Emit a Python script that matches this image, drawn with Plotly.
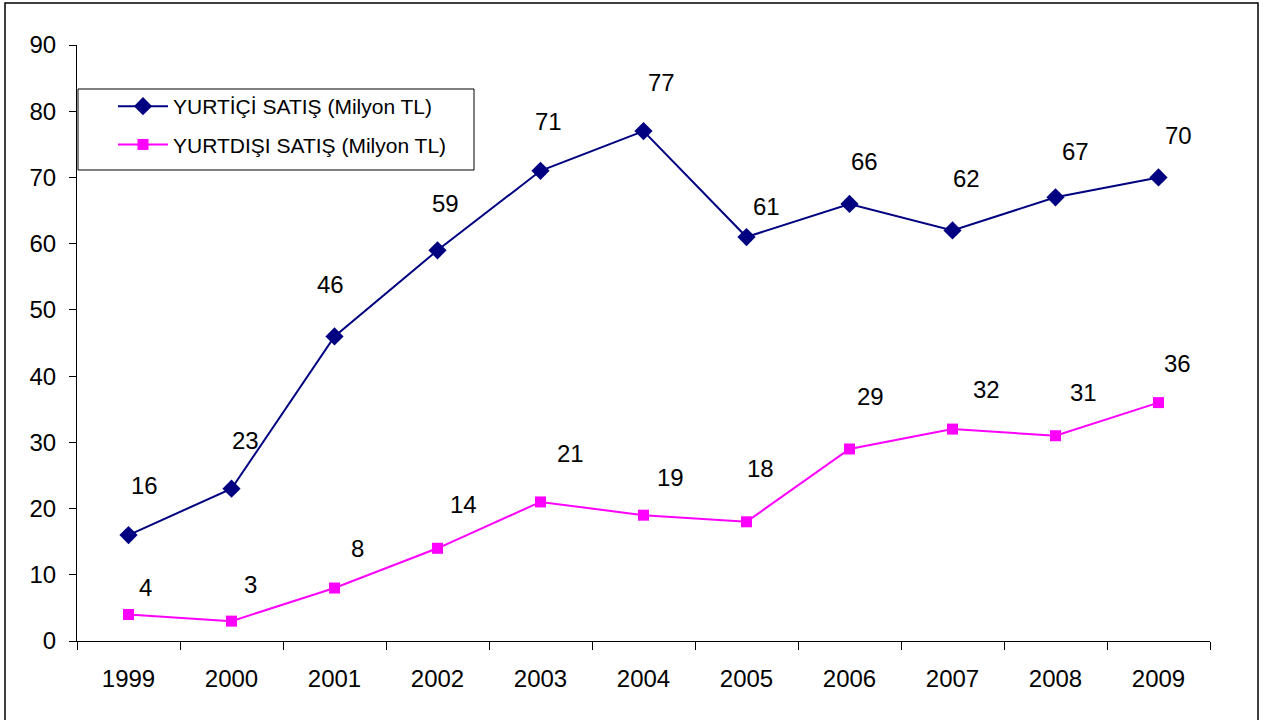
import plotly.graph_objects as go

years = ["1999", "2000", "2001", "2002", "2003", "2004", "2005", "2006", "2007", "2008", "2009"]
yurtici = [16, 23, 46, 59, 71, 77, 61, 66, 62, 67, 70]
yurtdisi = [4, 3, 8, 14, 21, 19, 18, 29, 32, 31, 36]
name_ic = "YURTİÇİ SATIŞ (Milyon TL)"
name_dis = "YURTDIŞI SATIŞ (Milyon TL)"

# label pixel offsets (style only)
off_ic = [(16, 50), (14, 48), (-4, 52), (8, 47), (8, 49), (18, 49), (20, 31), (15, 42), (14, 52), (20, 46), (20, 42)]
off_dis = [(17, 27), (19, 37), (23, 40), (26, 44), (30, 48), (27, 38), (14, 53), (21, 52), (34, 40), (28, 43), (19, 39)]

FONT = "Liberation Sans, Arial, sans-serif"
W, H = 1263, 720
L, R, T, B = 77, 53, 45, 79
PW, PH = W - L - R, H - T - B


def px(xp):
    return (xp - L) / PW


def py(yp):
    return (H - B - yp) / PH


fig = go.Figure()
fig.add_trace(go.Scatter(x=years, y=yurtici, name=name_ic, mode="lines+markers",
                         line=dict(color="#000080", width=2),
                         marker=dict(symbol="diamond", size=14, color="#000080"),
                         legendgroup="a"))
fig.add_trace(go.Scatter(x=years, y=yurtdisi, name=name_dis, mode="lines+markers",
                         line=dict(color="#FF00FF", width=2),
                         marker=dict(symbol="square", size=11, color="#FF00FF"),
                         legendgroup="b"))

anns = []
for vals, offs in ((yurtici, off_ic), (yurtdisi, off_dis)):
    for i, (v, (dx, dy)) in enumerate(zip(vals, offs)):
        anns.append(dict(x=i, y=v, xref="x", yref="y", text=str(v), showarrow=False,
                         xshift=dx, yshift=dy, font=dict(family=FONT, size=24, color="black")))

shapes = [
    dict(type="rect", xref="paper", yref="paper", x0=px(5), x1=px(1258), y0=py(730), y1=py(3),
         line=dict(color="black", width=1.5), fillcolor="rgba(0,0,0,0)", layer="above"),
    dict(type="rect", xref="paper", yref="paper", x0=px(78), x1=px(474), y0=py(170), y1=py(89),
         line=dict(color="black", width=1), fillcolor="white", layer="below"),
]

fig.update_layout(
    width=W, height=H,
    margin=dict(l=L, r=R, t=T, b=B),
    paper_bgcolor="white", plot_bgcolor="rgba(0,0,0,0)",
    font=dict(family=FONT, size=24, color="black"),
    showlegend=True,
    legend=dict(x=px(113), y=py(86), xanchor="left", yanchor="top",
                bgcolor="rgba(0,0,0,0)", borderwidth=0, itemwidth=50,
                font=dict(family=FONT, size=21, color="black"),
                traceorder="grouped", tracegroupgap=8),
    annotations=anns,
    shapes=shapes,
    xaxis=dict(type="category", range=[-0.5, 10.5], tickson="boundaries",
               ticks="outside", ticklen=8, tickcolor="black", showline=True,
               linecolor="black", linewidth=1, showgrid=False, zeroline=False,
               ticklabelstandoff=16, tickfont=dict(family=FONT, size=24)),
    yaxis=dict(range=[0, 90], dtick=10, ticks="outside", ticklen=7, tickcolor="black",
               showline=True, linecolor="black", linewidth=1, showgrid=False,
               zeroline=False, ticklabelstandoff=8, tickfont=dict(family=FONT, size=24)),
)

fig.write_html("out.html")
